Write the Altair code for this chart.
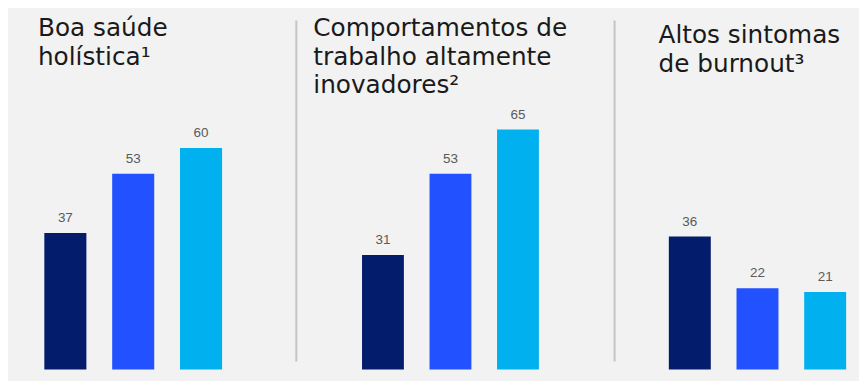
import altair as alt
import pandas as pd

titles = [
    "Boa saúde\nholística¹",
    "Comportamentos de\ntrabalho altamente\ninovadores²",
    "Altos sintomas\nde burnout³",
]
groups = ["Grupo 1", "Grupo 2", "Grupo 3"]
values_p1 = [37, 53, 60]
values_p2 = [31, 53, 65]
values_p3 = [36, 22, 21]
colors = ["#041c6c", "#2251ff", "#00b0ef"]

panel_values = [values_p1, values_p2, values_p3]
panel_widths = [288, 318, 245]
x_ranges = [[23.5, 227.5], [53, 256], [41.5, 245]]
title_pos = [(30, 28), (17, 28), (44, 35)]
H = 373

panels = []
for i in range(3):
    df = pd.DataFrame({"grupo": groups, "valor": panel_values[i]})
    xs = alt.X("grupo:N", axis=None,
               scale=alt.Scale(range=x_ranges[i], paddingInner=0.38, paddingOuter=0.19))
    ys = alt.Y("valor:Q", axis=None, scale=alt.Scale(domain=[-3, 97.8], zero=False, nice=False))
    base = alt.Chart(df)
    bars = base.mark_bar().encode(
        x=xs, y=ys,
        color=alt.Color("grupo:N", legend=None,
                        scale=alt.Scale(domain=groups, range=colors)),
    )
    labels = base.mark_text(font="Liberation Sans", fontSize=13.5, color="#5a5a5a",
                            baseline="alphabetic", dy=-11).encode(
        x=xs, y=ys, text="valor:Q")
    tdf = pd.DataFrame({"t": [titles[i]]})
    tx, ty = title_pos[i]
    title = alt.Chart(tdf).mark_text(font="DejaVu Sans", fontSize=24.8, color="#1a1a1a",
                                     align="left", baseline="alphabetic",
                                     lineBreak="\n", lineHeight=28.5).encode(
        x=alt.value(tx), y=alt.value(ty), text="t:N")
    layers = [bars, labels, title]
    if i > 0:
        div = alt.Chart(pd.DataFrame({"a": [0]})).mark_rule(color="#c4c4c4", strokeWidth=2).encode(
            x=alt.value(0), y=alt.value(12), y2=alt.value(354))
        layers.append(div)
    panels.append(alt.layer(*layers).properties(width=panel_widths[i], height=H))

chart = alt.hconcat(*panels, spacing=0).properties(
    padding=0, background="#f2f2f2"
).configure_view(stroke=None)

chart.save("out.html", embed_options={"renderer": "svg", "actions": False})
